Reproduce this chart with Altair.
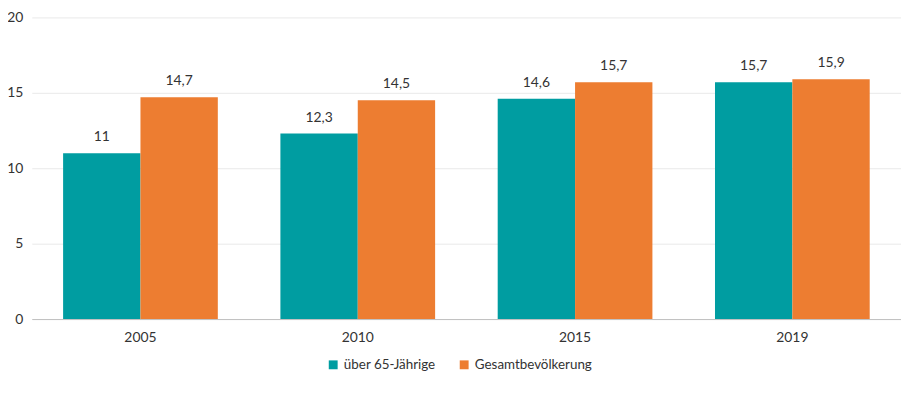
import altair as alt
import pandas as pd

years = ["2005", "2010", "2015", "2019"]
series = ["über 65-Jährige", "Gesamtbevölkerung"]
senior = [11.0, 12.3, 14.6, 15.7]
total = [14.7, 14.5, 15.7, 15.9]
colors = ["#009DA1", "#ED7D31"]

rows = []
for y, a, b in zip(years, senior, total):
    rows.append({"Jahr": y, "Gruppe": series[0], "Wert": a})
    rows.append({"Jahr": y, "Gruppe": series[1], "Wert": b})
df = pd.DataFrame(rows)
df["Label"] = df["Wert"].map(lambda v: (f"{v:g}").replace(".", ","))

FONT = "Lato"
FS = 14
TC = "#333333"

x = alt.X("Jahr:N", sort=years, title=None,
          scale=alt.Scale(paddingInner=0.288, paddingOuter=0.144),
          axis=alt.Axis(labelAngle=0, ticks=False, domainColor="#BFBFBF",
                        labelFont=FONT, labelFontSize=FS, labelColor=TC,
                        labelPadding=12, grid=False))
xo = alt.XOffset("Gruppe:N", sort=series, scale=alt.Scale(paddingInner=0, paddingOuter=0))
y = alt.Y("Wert:Q", title=None,
          scale=alt.Scale(domain=[0, 20], nice=False),
          axis=alt.Axis(values=[0, 5, 10, 15, 20], ticks=False, domain=False,
                        gridColor="#E9E9E9", labelFont=FONT, labelFontSize=FS,
                        labelColor=TC, labelPadding=9))
color = alt.Color("Gruppe:N", sort=series,
                  scale=alt.Scale(domain=series, range=colors),
                  legend=alt.Legend(orient="none", legendX=297, legendY=343,
                                    direction="horizontal", title=None,
                                    symbolType="square", symbolSize=80, symbolStrokeWidth=0,
                                    labelFont=FONT, labelFontSize=13.5, labelColor=TC,
                                    labelOffset=4, columnPadding=22))

bars = alt.Chart(df).mark_bar().encode(x=x, xOffset=xo, y=y, color=color)
text = alt.Chart(df).mark_text(baseline="alphabetic", dy=-12, font=FONT, fontSize=FS,
                               color=TC).encode(
    x=alt.X("Jahr:N", sort=years), xOffset=alt.XOffset("Gruppe:N", sort=series),
    y="Wert:Q", text="Label:N")

chart = alt.layer(bars, text).properties(
    width=876, height=304,
    autosize=alt.AutoSizeParams(type="none"),
    padding={"left": 24, "top": 8, "right": 0, "bottom": 70},
).configure_view(stroke=None)

chart.save("out.html", embed_options={"renderer": "svg", "actions": False})
